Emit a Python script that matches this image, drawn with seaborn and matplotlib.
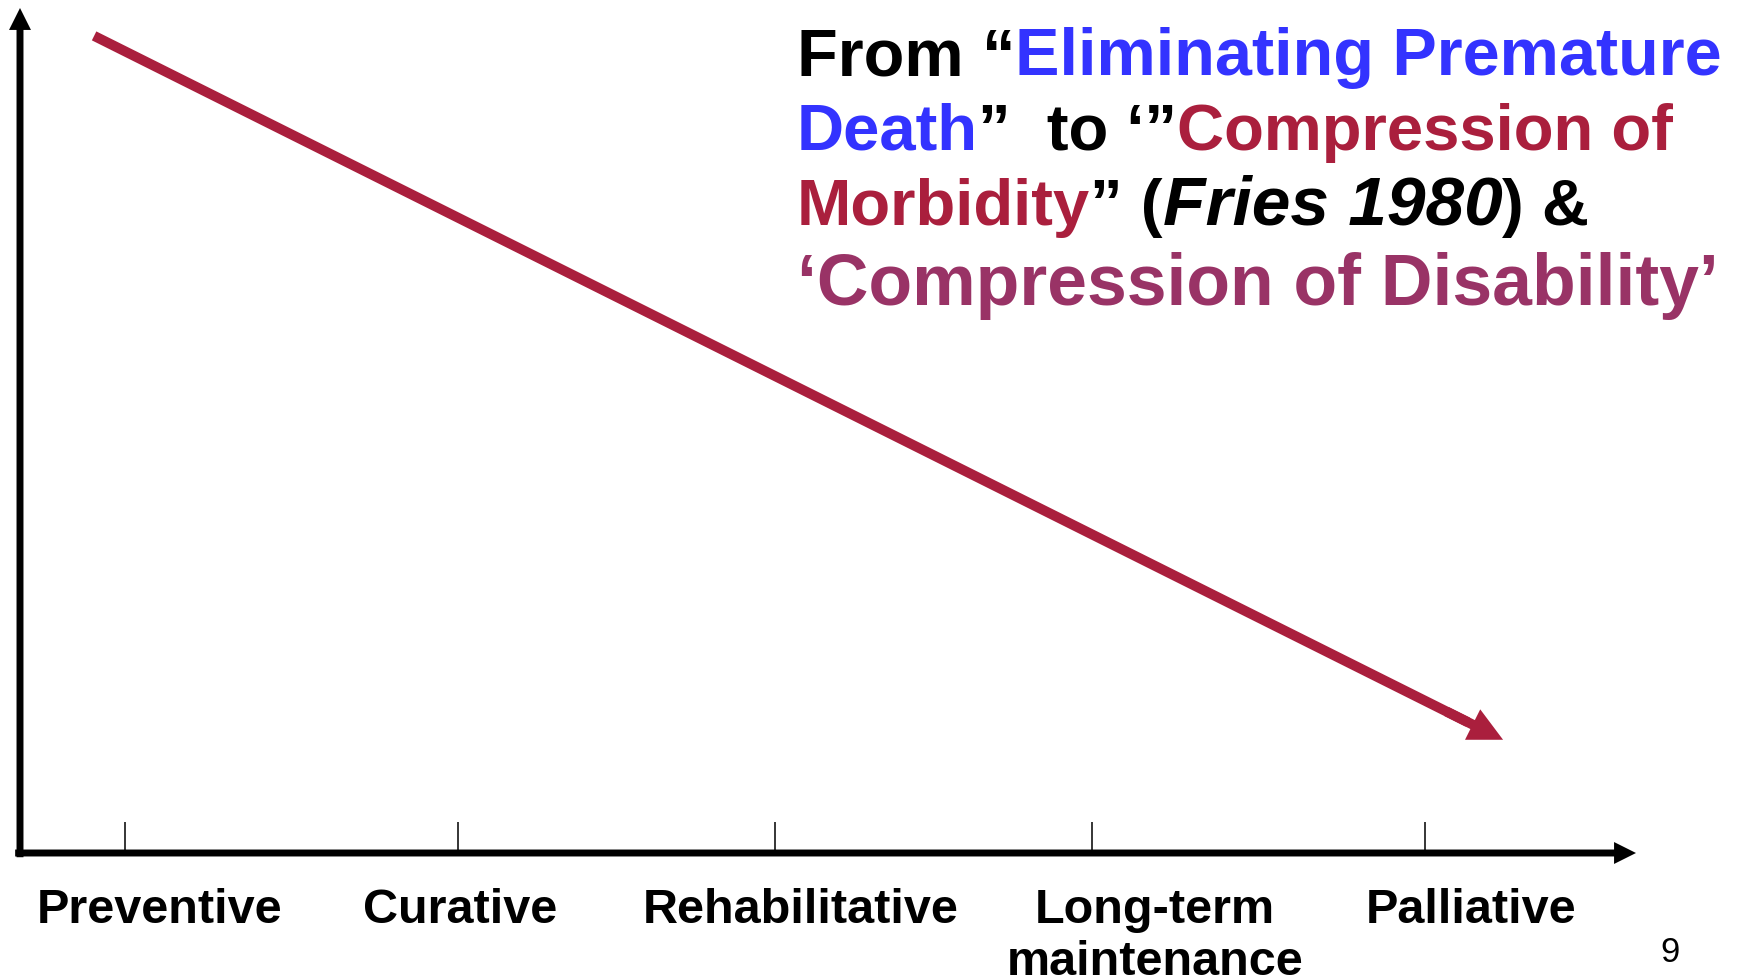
import matplotlib
matplotlib.use("Agg")
import matplotlib.pyplot as plt
import seaborn as sns

# Data
stages = ["Preventive", "Curative", "Rehabilitative", "Long-term\nmaintenance", "Palliative"]
stage_ticks = [0, 1.025, 2, 2.975, 4]
label_x = [0.105, 1.031, 2.08, 3.17, 4.141]
trend_x = [-0.095, 4.24]
trend_y = [96.7, 13.4]

BLACK = "#000000"
BLUE = "#3333FF"
CRIMSON = "#AA1F3D"
PURPLE = "#993366"

# (text, colour, style, size)
title_lines = [
    [("From \u201c", BLACK, "normal", 48), ("Eliminating Premature", BLUE, "normal", 48)],
    [("Death", BLUE, "normal", 47), ("\u201d  to \u2018\u201d", BLACK, "normal", 47),
     ("Compression of", CRIMSON, "normal", 47)],
    [("Morbidity", CRIMSON, "normal", 47), ("\u201d (", BLACK, "normal", 47),
     ("Fries 1980", BLACK, "italic", 50), (") &", BLACK, "normal", 47)],
    [("\u2018Compression of Disability\u2019", PURPLE, "normal", 51.5)],
]
title_baselines = [75, 150, 225, 305]  # pixels from top

sns.set_theme(style="white")
plt.rcParams["font.family"] = ["Liberation Sans", "DejaVu Sans"]

W, H = 1739, 979
fig = plt.figure(figsize=(W / 100, H / 100), dpi=100)
ax = fig.add_axes([20 / W, (H - 854) / H, (1636 - 20) / W, (854 - 9) / H])
ax.set_xlim(-0.323, 4.649)
ax.set_ylim(0, 100)
for s in ax.spines.values():
    s.set_visible(False)
ax.set_yticks([])
ax.set_xticks(stage_ticks)
ax.set_xticklabels([])
ax.tick_params(axis="x", direction="in", length=22, width=1.1, color="black", bottom=True)

# axis arrows
axis_style = "simple,head_length=1.58,head_width=1.58,tail_width=0.5"
ax.annotate("", xy=(1, 0), xytext=(-0.003, 0), xycoords="axes fraction",
            arrowprops=dict(arrowstyle=axis_style, mutation_scale=10, color="black",
                            shrinkA=0, shrinkB=0, lw=0), annotation_clip=False)
ax.annotate("", xy=(0, 1), xytext=(0, -0.005), xycoords="axes fraction",
            arrowprops=dict(arrowstyle=axis_style, mutation_scale=10, color="black",
                            shrinkA=0, shrinkB=0, lw=0), annotation_clip=False)

# trend arrow
f_line, f_head = 0.975, 0.96
line_x = [trend_x[0], trend_x[0] + f_line * (trend_x[1] - trend_x[0])]
line_y = [trend_y[0], trend_y[0] + f_line * (trend_y[1] - trend_y[0])]
sns.lineplot(x=line_x, y=line_y, ax=ax, color=CRIMSON, linewidth=7.2, solid_capstyle="butt")
head_start = (trend_x[0] + f_head * (trend_x[1] - trend_x[0]),
              trend_y[0] + f_head * (trend_y[1] - trend_y[0]))
ax.annotate("", xy=(trend_x[1], trend_y[1]), xytext=head_start,
            arrowprops=dict(arrowstyle="simple,head_length=2.45,head_width=2.45,tail_width=0.72",
                            mutation_scale=10, color=CRIMSON, shrinkA=0, shrinkB=0, lw=0))

# stage labels (one text per line, baselines 52 px apart)
line_step = 52 / 845 * 100
for x, lab in zip(label_x, stages):
    for i, part in enumerate(lab.split("\n")):
        ax.text(x, -8.17 - i * line_step, part, ha="center", va="baseline", fontsize=35,
                fontweight="bold", color="black")

# title with coloured segments
renderer = fig.canvas.get_renderer()
inv = fig.transFigure.inverted()
for line, base in zip(title_lines, title_baselines):
    x = 797 / W
    y = 1 - base / H
    for txt, col, style, size in line:
        t = fig.text(x, y, txt, color=col, fontsize=size, fontweight="bold", fontstyle=style,
                     ha="left", va="baseline")
        bb = t.get_window_extent(renderer=renderer)
        x = inv.transform((bb.x1, bb.y0))[0]

# slide number
fig.text(1670 / W, 1 - 962 / H, "9", ha="center", va="baseline", fontsize=25,
         family=["Liberation Sans Narrow", "Liberation Sans"], color="black")

fig.savefig("out.png", dpi=100)
